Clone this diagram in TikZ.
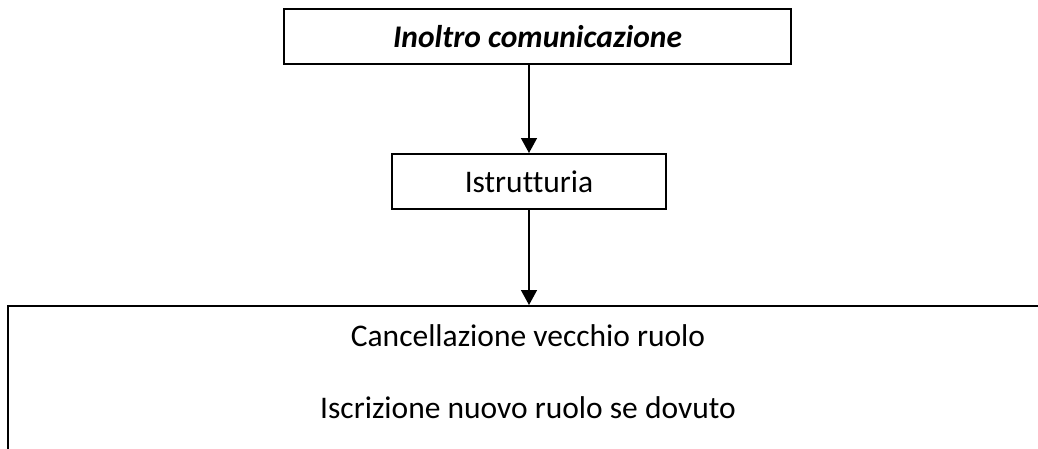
\documentclass[tikz,border=0pt]{standalone}
\usepackage{fontspec}
\setmainfont[Ligatures=CommonOff]{Carlito}
\usetikzlibrary{arrows.meta}
\begin{document}
\begin{tikzpicture}[x=1pt,y=-1pt,
  boxstyle/.style={draw=black,line width=2pt,inner sep=0pt,minimum height=55pt,font=\fontsize{31.5}{36}\selectfont},
  conn/.style={line width=1.5pt,-{Triangle[length=15pt,width=16pt]}},
  txt/.style={font=\fontsize{31.5}{36}\selectfont,inner sep=0pt,anchor=base}]
\useasboundingbox (0,0) rectangle (1038,448);
\clip (0,0) rectangle (1038,448);
\fill[white] (0,0) rectangle (1038,448);
\node[boxstyle,minimum width=507pt] (top) at (537.5,36.5) {\bfseries\itshape Inoltro comunicazione};
\node[boxstyle,minimum width=274pt] (mid) at (529,181.5) {Istrutturia};
\node[draw=black,line width=2pt,inner sep=0pt,minimum width=1080pt,minimum height=200pt,anchor=north west] (bot) at (7,305) {};
\node[txt] (l1) at (528,346) {Cancellazione vecchio ruolo};
\node[txt] (l2) at (528,418) {Iscrizione nuovo ruolo se dovuto};
\coordinate (a1) at (529,0);
\draw[conn] (top.south -| a1) -- (mid.north -| a1);
\draw[conn] (mid.south -| a1) -- (bot.north -| a1);
\end{tikzpicture}
\end{document}
